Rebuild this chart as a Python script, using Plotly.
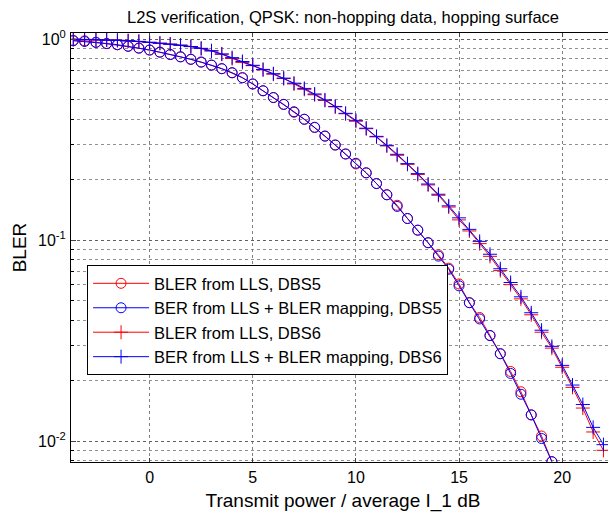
import plotly.graph_objects as go

# transmit power / average I_1 [dB]
x_dbs5 = [-3.7, -3.15, -2.6, -2.08, -1.56, -1.04, -0.52, 0.0, 0.5, 1.0, 1.5, 2.0, 2.5, 3.0, 3.5, 4.0,
          4.5, 5.0, 5.5, 6.0, 6.5, 7.0, 7.5, 8.0, 8.5, 9.0, 9.5, 10.0, 10.5, 11.0, 11.5, 12.0, 12.5,
          13.0, 13.5, 14.0, 14.5, 15.0, 15.5, 16.0, 16.5, 17.0, 17.5, 18.0, 18.5, 19.0, 19.5]
x_dbs6 = x_dbs5 + [20.0, 20.5, 21.0, 21.5, 22.0]

bler_lls_dbs5 = [0.985, 0.98, 0.963, 0.948, 0.936, 0.921, 0.9, 0.881, 0.861, 0.837, 0.816, 0.792,
                 0.768, 0.741, 0.712, 0.679, 0.642, 0.597, 0.553, 0.511, 0.473, 0.432, 0.399, 0.363,
                 0.329, 0.297, 0.268, 0.239, 0.216, 0.191, 0.168, 0.149, 0.128, 0.112, 0.097, 0.0845,
                 0.0725, 0.0605, 0.0488, 0.0412, 0.0335, 0.0272, 0.0222, 0.0176, 0.0135, 0.0106, 0.0079]
ber_map_dbs5 = [0.98, 0.972, 0.962, 0.95, 0.937, 0.92, 0.902, 0.882, 0.86, 0.838, 0.815, 0.793,
                0.768, 0.742, 0.712, 0.68, 0.642, 0.598, 0.553, 0.512, 0.473, 0.435, 0.399, 0.364,
                0.329, 0.297, 0.268, 0.241, 0.216, 0.191, 0.168, 0.147, 0.128, 0.112, 0.097, 0.0832,
                0.0716, 0.0592, 0.0488, 0.0405, 0.0335, 0.0272, 0.0217, 0.0171, 0.0135, 0.0103, 0.0079]

bler_lls_dbs6 = [0.997, 0.996, 0.992, 0.989, 0.985, 0.98, 0.973, 0.963, 0.953, 0.943, 0.932, 0.917,
                 0.897, 0.872, 0.84, 0.8, 0.765, 0.737, 0.703, 0.669, 0.636, 0.598, 0.562, 0.528,
                 0.495, 0.46, 0.425, 0.39, 0.358, 0.326, 0.294, 0.264, 0.238, 0.212, 0.188, 0.167,
                 0.146, 0.126, 0.111, 0.096, 0.083, 0.0705, 0.06, 0.051, 0.0425, 0.0348, 0.029,
                 0.0233, 0.0185, 0.0146, 0.0111, 0.009]
ber_map_dbs6 = [0.997, 0.995, 0.992, 0.989, 0.985, 0.98, 0.973, 0.963, 0.953, 0.943, 0.932, 0.918,
                0.899, 0.875, 0.843, 0.808, 0.773, 0.74, 0.706, 0.672, 0.639, 0.603, 0.568, 0.533,
                0.498, 0.462, 0.427, 0.394, 0.36, 0.328, 0.296, 0.267, 0.24, 0.214, 0.19, 0.169,
                0.148, 0.129, 0.113, 0.0985, 0.085, 0.072, 0.0615, 0.0522, 0.0435, 0.0356, 0.0296,
                0.0238, 0.019, 0.0152, 0.0117, 0.0096]

x_ticks = [0, 5, 10, 15, 20]
y_ticks = [1, 0.1, 0.01]
y_ticktext = ['10<sup>0</sup>', '10<sup>-1</sup>', '10<sup>-2</sup>']
y_minor = [0.9, 0.8, 0.7, 0.6, 0.5, 0.4, 0.3, 0.2,
           0.09, 0.08, 0.07, 0.06, 0.05, 0.04, 0.03, 0.02, 0.009, 0.008]

series = [
    ('BLER from LLS, DBS5', x_dbs5, bler_lls_dbs5, '#ff0000', 'circle-open', 10),
    ('BER from LLS + BLER mapping, DBS5', x_dbs5, ber_map_dbs5, '#0000ff', 'circle-open', 10),
    ('BLER from LLS, DBS6', x_dbs6, bler_lls_dbs6, '#ff0000', 'cross-thin', 10),
    ('BER from LLS + BLER mapping, DBS6', x_dbs6, ber_map_dbs6, '#0000ff', 'cross-thin', 10),
]

fig = go.Figure()
for name, xs, ys, col, sym, sz in series:
    fig.add_trace(go.Scatter(x=xs, y=ys, mode='lines+markers', name=name,
                             line=dict(color=col, width=1),
                             marker=dict(symbol=sym, size=sz, color=col,
                                         line=dict(color=col, width=1))))

# page body has an 8px margin, so the figure is shifted by 8px in the window
W, H = 608, 506
font = 'Liberation Sans, Arial, sans-serif'
fig.update_layout(
    width=W, height=H,
    margin=dict(l=63, r=1, t=25, b=52, autoexpand=False),
    paper_bgcolor='white', plot_bgcolor='white',
    font=dict(family=font, size=16, color='black'),
    title=dict(text='L2S verification, QPSK: non-hopping data, hopping surface',
               x=0.5, xref='paper', xanchor='center', y=1 - 9 / H, yanchor='middle',
               font=dict(size=16.5)),
    legend=dict(x=0.0295, y=0.459, xanchor='left', yanchor='top',
                bgcolor='white', bordercolor='black', borderwidth=1,
                font=dict(size=16.5), itemwidth=56, tracegroupgap=0),
    showlegend=True,
)
fig.update_xaxes(
    range=[-3.81, 22.56], tickvals=x_ticks, ticks='inside', ticklen=4,
    showline=True, linecolor='black', linewidth=1, mirror='allticks',
    showgrid=True, gridcolor='#808080', griddash='dot', gridwidth=1, zeroline=False,
    automargin=False, ticklabelstandoff=1,
    title=dict(text='Transmit power / average I_1 dB', standoff=8),
)
fig.update_yaxes(
    type='log', range=[-2.104, 0.03], tickvals=y_ticks, ticktext=y_ticktext,
    ticks='inside', ticklen=5,
    showline=True, linecolor='black', linewidth=1, mirror='allticks',
    showgrid=True, gridcolor='#606060', griddash='dot', gridwidth=1, zeroline=False,
    minor=dict(tickvals=y_minor, ticks='inside', ticklen=3, tickcolor='black',
               showgrid=True, gridcolor='#909090', griddash='dot', gridwidth=1),
    automargin=False, ticklabelstandoff=1,
    title=dict(text='BLER', standoff=6),
)

fig.write_html('out.html')
